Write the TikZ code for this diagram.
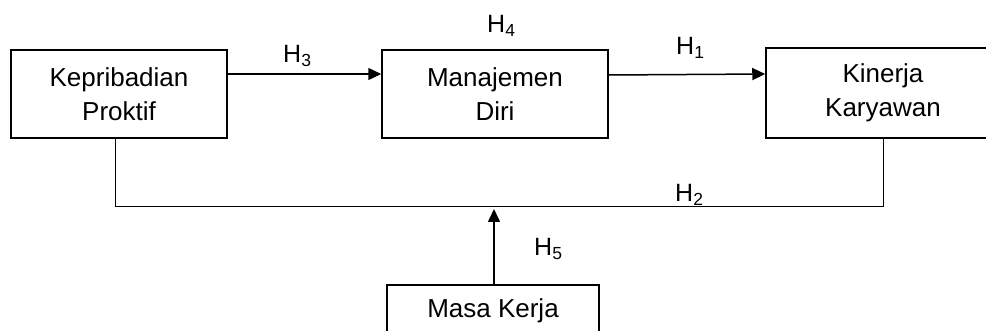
\documentclass[tikz,border=0pt]{standalone}
\usepackage{fontspec}
\setmainfont{Liberation Sans}
\usetikzlibrary{arrows.meta}

\begin{document}
\begin{tikzpicture}[x=1pt,y=-1pt,
    box/.style={draw,line width=1.5pt,align=center,inner sep=0pt,font=\fontsize{26}{34}\selectfont},
    arr/.style={line width=1.5pt,-{Triangle[length=13pt,width=12pt]}},
    hlbl/.style={anchor=base west,inner sep=0pt,font=\fontsize{25}{28}\selectfont}]
            \path[use as bounding box,clip] (0,0) rectangle (986,331);
            \node[box,minimum width=216pt,minimum height=88pt] (kp) at (119,94) {Kepribadian\\Proktif};
            \node[box,minimum width=226pt,minimum height=88pt] (md) at (495,94) {Manajemen\\Diri};
            \node[box,minimum width=234pt,minimum height=90pt] (kk) at (883,93) {Kinerja\\Karyawan};
            \node[box,minimum width=212pt,minimum height=52pt] (mk) at (493,311) {Masa Kerja};
            \coordinate (bl) at (115,207);
            \coordinate (br) at (883,207);
            \coordinate (tip) at (494,209);
              \draw[arr] ([yshift=20pt]kp.east) -- ([yshift=20pt]md.west);
              \draw[arr] ([yshift=19pt]md.east) -- ([yshift=19pt]kk.west);
              \draw[line width=1pt] (kp.south -| bl) -- (bl) -- (br) -- (kk.south);
              \draw[arr] (mk.north -| tip) -- (tip);
            \node[hlbl] (h3) at (283,63) {H\textsubscript{3}};
            \node[hlbl] (h4) at (487,33) {H\textsubscript{4}};
            \node[hlbl] (h1) at (676,55) {H\textsubscript{1}};
            \node[hlbl] (h2) at (675,202) {H\textsubscript{2}};
            \node[hlbl] (h5) at (534,256) {H\textsubscript{5}};
            \end{tikzpicture}
\end{document}
